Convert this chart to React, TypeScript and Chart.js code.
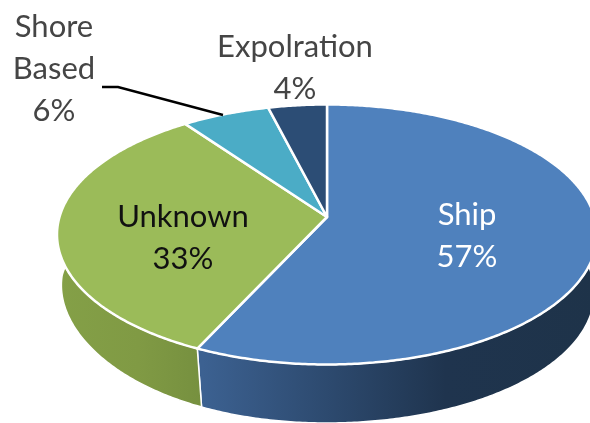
import React, { useEffect, useRef } from "react";
import { Chart, registerables } from "chart.js";

Chart.register(...registerables);

const categories = ["Ship", "Unknown", "Shore Based", "Expolration"];
const shares = [57, 33, 6, 4];
const faceColors = ["#4f81bd", "#9bbb59", "#4bacc6", "#2c4d75"];

// Text lines and centre of each data label.
const labelLines = [["Ship"], ["Unknown"], ["Shore", "Based"], ["Expolration"]];
const labelCentres = [
  { x: 467, y: 215, color: "#ffffff" },
  { x: 183, y: 217, color: "#111111" },
  { x: 54, y: 27, color: "#454545" },
  { x: 295, y: 47, color: "#454545" },
];
const labelFont = '31px Lato, "Open Sans", sans-serif';
const lineHeight = 42;

// Tilted disc seen in perspective: an ellipse whose hub sits above its middle.
const disc = { cx: 327, cy: 234.5, rx: 270, ry: 130, hubLift: 17.5 };
const wall = { drop: 58.5, shrink: 0.99, leftPinch: 0.03 };

function project(theta: number, isBase: boolean) {
  const u = Math.cos(theta);
  const v = Math.sin(theta);
  const p = disc.hubLift / disc.ry;
  const w = 1 - p * v;
  // The lower rim is drawn in slightly on the front-left quadrant.
  const pinch = u < 0 && v > 0 ? wall.leftPinch * 2 * -u * v : 0;
  const k = isBase ? wall.shrink - pinch : 1;
  const x = (disc.rx * Math.sqrt(1 - p * p) * u * k) / w;
  const y = (disc.ry * v - disc.hubLift) / w;
  return { x: disc.cx + x, y: disc.cy + y + (isBase ? wall.drop : 0) };
}

function sampleAngles(start: number, end: number) {
  const steps = Math.max(2, Math.ceil((end - start) / 0.01));
  const out: number[] = [];
  for (let i = 0; i <= steps; i++) out.push(start + ((end - start) * i) / steps);
  return out;
}

function wallFill(ctx: CanvasRenderingContext2D, index: number) {
  const g = ctx.createLinearGradient(57, 0, 597, 0);
  if (index === 0) {
    g.addColorStop(0.27, "#3c6191");
    g.addColorStop(0.5, "#2d4a6f");
    g.addColorStop(0.72, "#1f344e");
    g.addColorStop(1, "#1e3349");
  } else if (index === 1) {
    g.addColorStop(0, "#84a047");
    g.addColorStop(0.15, "#809a44");
    g.addColorStop(0.27, "#76903f");
  } else {
    g.addColorStop(0, faceColors[index]);
    g.addColorStop(1, faceColors[index]);
  }
  return g;
}

const perspectivePie = {
  id: "perspectivePie",
  beforeDatasetsDraw(chart: Chart) {
    const ctx = chart.ctx;
    const arcs = chart.getDatasetMeta(0).data as any[];
    ctx.save();
    ctx.lineJoin = "round";

    // Side walls first: the faces painted afterwards hide the rear part.
    [2, 3, 0, 1].forEach((i) => {
      const angles = sampleAngles(arcs[i].startAngle, arcs[i].endAngle);
      ctx.beginPath();
      angles.forEach((t, n) => {
        const q = project(t, false);
        n ? ctx.lineTo(q.x, q.y) : ctx.moveTo(q.x, q.y);
      });
      [...angles].reverse().forEach((t) => {
        const q = project(t, true);
        ctx.lineTo(q.x, q.y);
      });
      ctx.closePath();
      ctx.fillStyle = wallFill(ctx, i);
      ctx.fill();
      ctx.strokeStyle = "#ffffff";
      ctx.lineWidth = 1.5;
      ctx.stroke();
    });

    // Top faces, all meeting at the hub.
    const hub = { x: disc.cx, y: disc.cy - disc.hubLift };
    arcs.forEach((arc, i) => {
      ctx.beginPath();
      ctx.moveTo(hub.x, hub.y);
      sampleAngles(arc.startAngle, arc.endAngle).forEach((t) => {
        const q = project(t, false);
        ctx.lineTo(q.x, q.y);
      });
      ctx.closePath();
      ctx.fillStyle = faceColors[i];
      ctx.fill();
      ctx.strokeStyle = "#ffffff";
      ctx.lineWidth = 2.5;
      ctx.stroke();
    });
    ctx.restore();
    return false;
  },
  afterDraw(chart: Chart) {
    const ctx = chart.ctx;
    ctx.save();

    // Leader line from the Shore Based label to its slice.
    ctx.beginPath();
    ctx.moveTo(102, 87);
    ctx.lineTo(118, 87);
    ctx.lineTo(223, 115);
    ctx.strokeStyle = "#000000";
    ctx.lineWidth = 2.4;
    ctx.stroke();

    ctx.font = labelFont;
    ctx.textAlign = "center";
    ctx.textBaseline = "middle";
    categories.forEach((_, i) => {
      const place = labelCentres[i];
      ctx.fillStyle = place.color;
      const lines = [...labelLines[i], `${shares[i]}%`];
      lines.forEach((line, n) => {
        ctx.fillText(line, place.x, place.y + n * lineHeight);
      });
    });
    ctx.restore();
  },
};

export default function App() {
  const canvasRef = useRef<HTMLCanvasElement>(null);

  useEffect(() => {
    const chart = new Chart(canvasRef.current!, {
      type: "pie",
      data: {
        labels: categories,
        datasets: [{ data: shares, backgroundColor: faceColors }],
      },
      options: {
        responsive: false,
        animation: false,
        plugins: { legend: { display: false }, tooltip: { enabled: false } },
      },
      plugins: [perspectivePie],
    });
    return () => chart.destroy();
  }, []);

  return (
    <div style={{ position: "absolute", left: 0, top: 0, width: 590, height: 423, overflow: "hidden", background: "#ffffff" }}>
      <canvas ref={canvasRef} width={590} height={423} style={{ display: "block" }} />
    </div>
  );
}
